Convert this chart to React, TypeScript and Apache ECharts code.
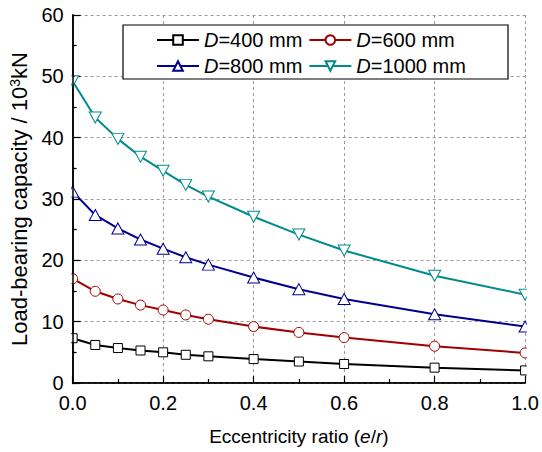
import React, { useEffect, useRef } from "react";
import * as echarts from "echarts";

const xValues = [0, 0.05, 0.1, 0.15, 0.2, 0.25, 0.3, 0.4, 0.5, 0.6, 0.8, 1.0];
const d400 = [7.3, 6.2, 5.7, 5.3, 5.0, 4.6, 4.35, 3.9, 3.5, 3.1, 2.5, 2.05];
const d600 = [17.0, 14.95, 13.7, 12.7, 11.9, 11.1, 10.4, 9.2, 8.25, 7.4, 6.0, 4.9];
const d800 = [31.2, 27.4, 25.2, 23.4, 21.9, 20.5, 19.3, 17.2, 15.3, 13.7, 11.2, 9.2];
const d1000 = [49.2, 43.3, 39.8, 36.9, 34.6, 32.3, 30.4, 27.1, 24.2, 21.6, 17.5, 14.4];
const seriesNames = ["D=400 mm", "D=600 mm", "D=800 mm", "D=1000 mm"];
const seriesData = [d400, d600, d800, d1000];
const colors = ["#000000", "#a00000", "#00008c", "#008b8b"];
const symbols = ["rect", "circle", "triangle", "triangle"];
const symbolSizes: (number | number[])[] = [9, 10, [12, 11], [12, 11]];
const symbolRotates = [0, 0, 0, 180];

const FONT = "Liberation Sans, Arial, sans-serif";

export default function App() {
  const ref = useRef<HTMLDivElement>(null);
  useEffect(() => {
    if (!ref.current) return;
    const chart = echarts.init(ref.current, undefined, { renderer: "svg" });
    const series = seriesNames.map((name, i) => ({
      name,
      type: "line",
      data: xValues.map((x, j) => [x, seriesData[i][j]]),
      symbol: symbols[i],
      symbolSize: symbolSizes[i],
      symbolRotate: symbolRotates[i],
      showAllSymbol: true,
      clip: false,
      lineStyle: { color: colors[i], width: 2 },
      itemStyle: { color: "#ffffff", borderColor: colors[i], borderWidth: 1 },
      emphasis: { disabled: true },
      z: 2,
    }));
    chart.setOption({
      animation: false,
      backgroundColor: "#ffffff",
      textStyle: { fontFamily: FONT },
      grid: { left: 72, right: 16, top: 15, bottom: 69, containLabel: false },
      legend: {
        left: 156,
        top: 30,
        width: 330,
        itemWidth: 42,
        itemHeight: 12,
        itemGap: 6,
        padding: 0,
        data: seriesNames,
        formatter: (n: string) => "{i|D}{a|" + n.slice(1) + "}",
        textStyle: {
          fontFamily: FONT,
          fontSize: 20,
          color: "#000",
          rich: {
            i: { fontStyle: "italic", fontSize: 20, fontFamily: FONT, color: "#000" },
            a: { fontSize: 20, fontFamily: FONT, color: "#000" },
          },
        },
        z: 6,
      },
      graphic: [
        {
          type: "rect",
          shape: { x: 123, y: 25, width: 385, height: 54 },
          style: { fill: "#ffffff", stroke: "#000000", lineWidth: 1.2 },
          z: 5,
        },
        {
          type: "rect",
          shape: { x: 64, y: 14, width: 7.2, height: 369 },
          style: { fill: "#ffffff" },
          zlevel: 1,
          z: 3,
        },
        {
          type: "rect",
          shape: { x: 526.8, y: 14, width: 14, height: 369 },
          style: { fill: "#ffffff" },
          zlevel: 1,
          z: 3,
        },
      ],
      xAxis: [
        {
          type: "value",
          min: 0,
          max: 1,
          interval: 0.2,
          position: "bottom",
          name: "{a|Eccentricity ratio (}{i|e}{a|/}{i|r}{a|)}",
          nameLocation: "middle",
          nameGap: 44,
          nameTextStyle: {
            rich: {
              a: { fontSize: 19, fontFamily: FONT, color: "#000" },
              i: { fontSize: 19, fontFamily: FONT, color: "#000", fontStyle: "italic" },
            },
          },
          axisLine: { lineStyle: { color: "#000", width: 1.5 } },
          axisTick: { inside: true, length: 7, lineStyle: { color: "#000", width: 1.2 } },
          minorTick: { show: true, splitNumber: 2, length: 4, lineStyle: { color: "#000", width: 1.2 } },
          axisLabel: {
            formatter: (v: number) => v.toFixed(1),
            fontSize: 20,
            color: "#000",
            fontFamily: FONT,
            margin: 10,
          },
          splitLine: { show: true, lineStyle: { color: "#999", type: [3, 3], width: 1 } },
          z: 1,
        },
        {
          type: "value",
          min: 0,
          max: 1,
          interval: 0.2,
          position: "top",
          axisLine: { lineStyle: { color: "#000", width: 1.5 } },
          axisTick: { show: false },
          axisLabel: { show: false },
          splitLine: { show: false },
        },
      ],
      yAxis: [
        {
          type: "value",
          min: 0,
          max: 60,
          interval: 10,
          position: "left",
          name: "{a|Load-bearing capacity / 10}{s|3}{a|kN}",
          nameLocation: "middle",
          nameGap: 38,
          nameRotate: 90,
          nameTextStyle: {
            rich: {
              a: { fontSize: 22, fontFamily: FONT, color: "#000" },
              s: { fontSize: 14, fontFamily: FONT, color: "#000", verticalAlign: "top", padding: [0, 0, 9, 0] },
            },
          },
          axisLine: { lineStyle: { color: "#000", width: 1.5 } },
          axisTick: { inside: true, length: 8, lineStyle: { color: "#000", width: 1.2 } },
          minorTick: { show: true, splitNumber: 2, length: 4, lineStyle: { color: "#000", width: 1.2 } },
          axisLabel: { fontSize: 20, color: "#000", fontFamily: FONT, margin: 9 },
          splitLine: { show: true, lineStyle: { color: "#999", type: [3, 3], width: 1 } },
          z: 1,
        },
        {
          type: "value",
          min: 0,
          max: 60,
          interval: 10,
          position: "right",
          axisLine: { show: true, lineStyle: { color: "#000", width: 1.5 } },
          axisTick: { show: true, inside: false, length: 2, lineStyle: { color: "#000", width: 1.2 } },
          minorTick: { show: true, splitNumber: 2, length: 2, lineStyle: { color: "#000", width: 1.2 } },
          axisLabel: { show: false },
          splitLine: { show: false },
          zlevel: 1,
          z: 10,
        },
      ],
      series,
    });
    return () => chart.dispose();
  }, []);
  return (
    <div
      ref={ref}
      style={{ position: "fixed", left: 0, top: 0, width: 542, height: 452 }}
    />
  );
}
